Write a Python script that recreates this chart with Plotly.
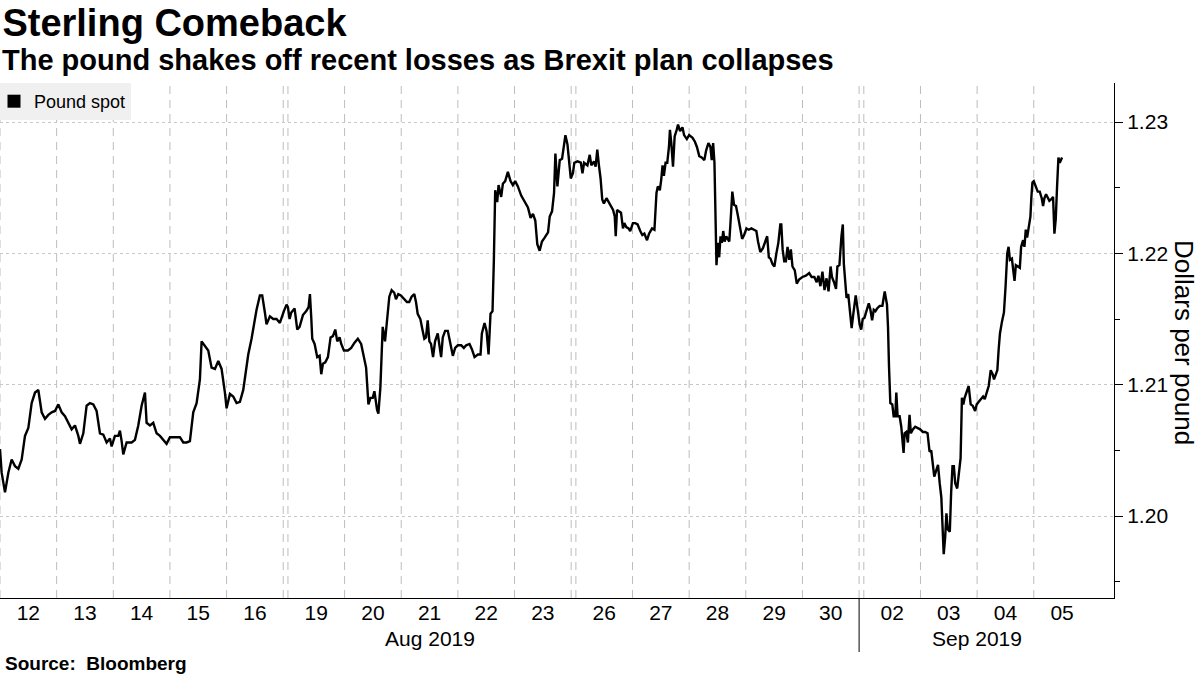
import pandas as pd
import plotly.graph_objects as go

TITLE = "Sterling Comeback"
SUBTITLE = "The pound shakes off recent losses as Brexit plan collapses"
SOURCE = "Source:  Bloomberg"
SERIES_NAME = "Pound spot"
Y_TITLE = "Dollars per pound"
YEAR = 2019
Y_TICKS = [1.20, 1.21, 1.22, 1.23]

# Intraday GBP/USD readings (month-day hour:minute)
TIMES = [
    # Aug 12
    "08-12 00:00", "08-12 00:42", "08-12 02:07", "08-12 03:32", "08-12 04:56", "08-12 06:21",
    "08-12 07:46", "08-12 09:11", "08-12 10:35", "08-12 12:00", "08-12 13:25", "08-12 14:50",
    "08-12 16:14", "08-12 17:39", "08-12 19:04", "08-12 20:29", "08-12 21:53", "08-12 23:18",
    # Aug 13
    "08-13 00:42", "08-13 02:07", "08-13 03:32", "08-13 04:56", "08-13 06:21", "08-13 07:46",
    "08-13 09:11", "08-13 09:53", "08-13 11:18", "08-13 12:42", "08-13 14:07", "08-13 15:32",
    "08-13 16:56", "08-13 18:21", "08-13 19:46", "08-13 21:11", "08-13 22:35", "08-13 23:18",
    # Aug 14
    "08-14 00:42", "08-14 02:07", "08-14 02:49", "08-14 03:32", "08-14 04:14", "08-14 05:39",
    "08-14 07:46", "08-14 09:11", "08-14 10:35", "08-14 12:00", "08-14 13:25", "08-14 14:07",
    "08-14 15:32", "08-14 16:56", "08-14 18:21", "08-14 19:46", "08-14 21:11", "08-14 22:35",
    # Aug 15
    "08-15 00:00", "08-15 01:25", "08-15 04:14", "08-15 05:39", "08-15 07:04", "08-15 08:28",
    "08-15 09:53", "08-15 11:18", "08-15 12:42", "08-15 13:25", "08-15 14:50", "08-15 16:14",
    "08-15 17:39", "08-15 19:04", "08-15 20:29", "08-15 21:53", "08-15 23:18",
    # Aug 16
    "08-16 00:00", "08-16 01:25", "08-16 02:49", "08-16 04:14", "08-16 05:39", "08-16 07:04",
    "08-16 08:28", "08-16 09:11", "08-16 10:35", "08-16 12:00", "08-16 12:42", "08-16 14:07",
    "08-16 15:06", "08-16 16:14", "08-16 16:56", "08-16 18:21", "08-16 19:46", "08-16 21:11",
    "08-16 22:35",
    # Sunday evening
    "08-18 22:17", "08-18 23:25",
    # Aug 19
    "08-19 00:00", "08-19 00:42", "08-19 01:25", "08-19 02:49", "08-19 03:57", "08-19 04:56",
    "08-19 06:21", "08-19 07:46", "08-19 08:45", "08-19 09:19", "08-19 09:53", "08-19 10:18",
    "08-19 11:18", "08-19 12:25", "08-19 13:25", "08-19 14:07", "08-19 14:50", "08-19 15:49",
    "08-19 16:56", "08-19 18:04", "08-19 19:04", "08-19 20:03", "08-19 20:54", "08-19 21:53",
    "08-19 22:35", "08-19 23:43",
    # Aug 20
    "08-20 01:24", "08-20 02:48", "08-20 04:13", "08-20 05:37", "08-20 07:01", "08-20 08:08",
    "08-20 09:07", "08-20 10:06", "08-20 10:57", "08-20 11:56", "08-20 12:38", "08-20 13:45",
    "08-20 14:19", "08-20 15:10", "08-20 16:09", "08-20 17:08", "08-20 17:58", "08-20 18:57",
    "08-20 19:56", "08-20 21:03", "08-20 21:46", "08-20 22:45", "08-20 23:52",
    # Aug 21
    "08-21 01:17", "08-21 02:25", "08-21 03:24", "08-21 04:24", "08-21 05:32", "08-21 06:15",
    "08-21 06:58", "08-21 08:06", "08-21 09:05", "08-21 09:48", "08-21 10:30", "08-21 11:13",
    "08-21 11:56", "08-21 12:38", "08-21 13:29", "08-21 14:20", "08-21 15:28", "08-21 16:11",
    "08-21 16:54", "08-21 17:36", "08-21 18:36", "08-21 19:44", "08-21 20:52", "08-21 21:52",
    "08-21 22:51",
    # Aug 22
    "08-22 00:00", "08-22 01:25", "08-22 02:32", "08-22 03:32", "08-22 04:56", "08-22 05:56",
    "08-22 07:04", "08-22 08:28", "08-22 09:36", "08-22 10:10", "08-22 11:18", "08-22 12:09",
    "08-22 13:00", "08-22 13:50", "08-22 14:41", "08-22 15:15", "08-22 15:49", "08-22 16:40",
    "08-22 17:14", "08-22 18:21", "08-22 19:04", "08-22 20:03", "08-22 21:11", "08-22 22:19",
    "08-22 23:18",
    # Aug 23
    "08-23 00:17", "08-23 01:25", "08-23 02:50", "08-23 04:16", "08-23 05:41", "08-23 06:49",
    "08-23 07:49", "08-23 08:48", "08-23 09:39", "08-23 10:39", "08-23 11:38", "08-23 12:46",
    "08-23 14:12", "08-23 14:55", "08-23 15:54", "08-23 16:45", "08-23 17:19", "08-23 18:10",
    "08-23 19:10", "08-23 20:09", "08-23 21:34", "08-23 22:26", "08-23 23:08", "08-23 23:50",
    # Sunday evening
    "08-25 22:45", "08-25 23:20",
    # Aug 26
    "08-26 00:42", "08-26 02:06", "08-26 02:47", "08-26 03:29", "08-26 04:53", "08-26 05:52",
    "08-26 06:33", "08-26 07:40", "08-26 08:22", "08-26 09:04", "08-26 09:46", "08-26 10:28",
    "08-26 11:10", "08-26 11:52", "08-26 12:58", "08-26 13:57", "08-26 14:55", "08-26 15:46",
    "08-26 16:28", "08-26 16:53", "08-26 17:26", "08-26 18:33", "08-26 19:07", "08-26 19:57",
    "08-26 20:31", "08-26 21:21", "08-26 22:19", "08-26 23:01",
    # Aug 27
    "08-27 00:09", "08-27 01:09", "08-27 02:09", "08-27 03:17", "08-27 04:09", "08-27 05:00",
    "08-27 06:09", "08-27 07:00", "08-27 08:17", "08-27 09:17", "08-27 10:09", "08-27 10:43",
    "08-27 11:34", "08-27 12:09", "08-27 12:43", "08-27 13:17", "08-27 14:00", "08-27 14:43",
    "08-27 15:26", "08-27 15:51", "08-27 16:26", "08-27 17:09", "08-27 17:51", "08-27 18:43",
    "08-27 19:17", "08-27 20:09", "08-27 21:09", "08-27 21:51", "08-27 23:00",
    # Aug 28
    "08-28 00:00", "08-28 01:26", "08-28 02:26", "08-28 03:17", "08-28 04:17", "08-28 05:17",
    "08-28 06:26", "08-28 07:09", "08-28 08:09", "08-28 09:00", "08-28 09:34", "08-28 10:09",
    "08-28 10:43", "08-28 11:09", "08-28 11:34", "08-28 12:09", "08-28 12:43", "08-28 13:17",
    "08-28 13:51", "08-28 14:26", "08-28 15:00", "08-28 15:43", "08-28 16:26", "08-28 17:00",
    "08-28 17:34", "08-28 18:17", "08-28 19:00", "08-28 19:51", "08-28 20:43", "08-28 21:34",
    "08-28 22:26", "08-28 23:17",
    # Aug 29
    "08-29 00:17", "08-29 01:15", "08-29 02:22", "08-29 03:29", "08-29 04:28", "08-29 05:10",
    "08-29 06:08", "08-29 07:15", "08-29 08:13", "08-29 09:03", "08-29 09:45", "08-29 10:27",
    "08-29 11:17", "08-29 12:07", "08-29 12:57", "08-29 13:47", "08-29 14:37", "08-29 15:02",
    "08-29 15:36", "08-29 16:17", "08-29 16:59", "08-29 17:41", "08-29 18:23", "08-29 19:05",
    "08-29 19:46", "08-29 20:45", "08-29 21:35", "08-29 22:33",
    # Aug 30
    "08-30 00:00", "08-30 01:26", "08-30 02:52", "08-30 03:53", "08-30 05:02", "08-30 06:02",
    "08-30 06:45", "08-30 07:37", "08-30 08:28", "08-30 09:20", "08-30 10:12", "08-30 11:03",
    "08-30 11:55", "08-30 12:30", "08-30 13:22", "08-30 14:13", "08-30 14:48", "08-30 15:40",
    "08-30 16:31", "08-30 17:06", "08-30 17:32", "08-30 17:58", "08-30 18:41", "08-30 19:24",
    "08-30 20:16", "08-30 20:50", "08-30 21:33", "08-30 22:34", "08-30 23:25",
    # Sunday evening
    "09-01 22:13", "09-01 22:53", "09-01 23:33",
    # Sep 2
    "09-02 00:17", "09-02 01:07", "09-02 02:06", "09-02 02:48", "09-02 03:31", "09-02 04:13",
    "09-02 04:55", "09-02 05:37", "09-02 06:44", "09-02 07:52", "09-02 08:51", "09-02 09:49",
    "09-02 10:15", "09-02 10:40", "09-02 11:14", "09-02 12:04", "09-02 12:38", "09-02 13:20",
    "09-02 13:46", "09-02 14:19", "09-02 15:10", "09-02 15:52", "09-02 16:17", "09-02 16:51",
    "09-02 17:16", "09-02 17:58", "09-02 18:40", "09-02 19:22", "09-02 19:56", "09-02 20:47",
    "09-02 21:46", "09-02 22:45", "09-02 23:52",
    # Sep 3
    "09-03 01:00", "09-03 02:00", "09-03 03:00", "09-03 03:51", "09-03 04:34", "09-03 05:17",
    "09-03 05:51", "09-03 06:43", "09-03 07:26", "09-03 08:09", "09-03 08:51", "09-03 09:17",
    "09-03 09:51", "09-03 10:26", "09-03 11:00", "09-03 11:34", "09-03 12:26", "09-03 13:00",
    "09-03 13:34", "09-03 14:09", "09-03 14:43", "09-03 15:34", "09-03 16:17", "09-03 17:00",
    "09-03 17:34", "09-03 18:09", "09-03 18:43", "09-03 19:34", "09-03 20:26", "09-03 21:17",
    "09-03 22:09", "09-03 23:09", "09-03 23:50",
    # Sep 4
    "09-04 00:42", "09-04 01:33", "09-04 02:32", "09-04 03:14", "09-04 04:05", "09-04 04:55",
    "09-04 05:46", "09-04 06:36", "09-04 07:10", "09-04 08:00", "09-04 08:34", "09-04 09:08",
    "09-04 09:41", "09-04 10:32", "09-04 11:22", "09-04 12:04", "09-04 12:46", "09-04 13:20",
    "09-04 13:54", "09-04 14:44", "09-04 15:18", "09-04 15:51", "09-04 16:25", "09-04 17:15",
    "09-04 18:06", "09-04 18:39", "09-04 19:30", "09-04 20:03", "09-04 20:37", "09-04 21:11",
    "09-04 21:53", "09-04 22:35", "09-04 23:00", "09-04 23:26",
    # Sep 5
    "09-05 00:00", "09-05 00:51", "09-05 01:41", "09-05 02:32", "09-05 03:23", "09-05 03:57",
    "09-05 04:31", "09-05 05:13", "09-05 05:55", "09-05 06:38", "09-05 07:20", "09-05 08:11",
    "09-05 08:45", "09-05 09:19", "09-05 09:53", "09-05 10:27", "09-05 11:01", "09-05 11:35",
    "09-05 12:00",
]

SPOT = [
    # Aug 12
    1.2051, 1.2033, 1.2018, 1.2033, 1.2043, 1.2038,
    1.2036, 1.2043, 1.2061, 1.2067, 1.2086, 1.2094,
    1.2096, 1.2079, 1.2074, 1.2077, 1.2079, 1.2080,
    # Aug 13
    1.2085, 1.2079, 1.2076, 1.2071, 1.2066, 1.2069,
    1.2061, 1.2055, 1.2063, 1.2084, 1.2086, 1.2085,
    1.2080, 1.2063, 1.2062, 1.2056, 1.2059, 1.2053,
    # Aug 14
    1.2061, 1.2061, 1.2065, 1.2057, 1.2047, 1.2056,
    1.2056, 1.2058, 1.2069, 1.2084, 1.2094, 1.2071,
    1.2069, 1.2071, 1.2063, 1.2061, 1.2058, 1.2055,
    # Aug 15
    1.2060, 1.2060, 1.2060, 1.2056, 1.2056, 1.2057,
    1.2079, 1.2086, 1.2104, 1.2133, 1.2129, 1.2126,
    1.2113, 1.2112, 1.2118, 1.2112, 1.2094,
    # Aug 16
    1.2082, 1.2093, 1.2091, 1.2086, 1.2087, 1.2096,
    1.2112, 1.2123, 1.2135, 1.2152, 1.2157, 1.2168,
    1.2168, 1.2155, 1.2146, 1.2152, 1.2150, 1.2150,
    1.2147,
    # Sunday evening
    1.2156, 1.2161,
    # Aug 19
    1.2159, 1.2150, 1.2155, 1.2158, 1.2142, 1.2144,
    1.2153, 1.2156, 1.2159, 1.2169, 1.2151, 1.2135,
    1.2131, 1.2121, 1.2122, 1.2108, 1.2116, 1.2117,
    1.2121, 1.2136, 1.2137, 1.2142, 1.2133, 1.2136,
    1.2131, 1.2126,
    # Aug 20
    1.2126, 1.2128, 1.2132, 1.2135, 1.2131, 1.2122,
    1.2113, 1.2085, 1.2090, 1.2090, 1.2095, 1.2081,
    1.2078, 1.2098, 1.2144, 1.2133, 1.2151, 1.2167,
    1.2172, 1.2170, 1.2165, 1.2169, 1.2168,
    # Aug 21
    1.2165, 1.2163, 1.2163, 1.2167, 1.2169, 1.2163,
    1.2154, 1.2150, 1.2141, 1.2135, 1.2136, 1.2149,
    1.2133, 1.2131, 1.2121, 1.2133, 1.2139, 1.2131,
    1.2121, 1.2136, 1.2141, 1.2141, 1.2131, 1.2122,
    1.2128,
    # Aug 22
    1.2130, 1.2130, 1.2128, 1.2130, 1.2131, 1.2127,
    1.2121, 1.2123, 1.2123, 1.2139, 1.2147, 1.2141,
    1.2123, 1.2154, 1.2156, 1.2195, 1.2248, 1.2239,
    1.2252, 1.2243, 1.2253, 1.2255, 1.2262, 1.2255,
    1.2252,
    # Aug 23
    1.2255, 1.2251, 1.2244, 1.2239, 1.2235, 1.2227,
    1.2230, 1.2225, 1.2207, 1.2202, 1.2209, 1.2212,
    1.2216, 1.2228, 1.2232, 1.2246, 1.2276, 1.2251,
    1.2271, 1.2272, 1.2290, 1.2283, 1.2271, 1.2257,
    # Sunday evening
    1.2261, 1.2269,
    # Aug 26
    1.2270, 1.2269, 1.2261, 1.2269, 1.2267, 1.2275,
    1.2267, 1.2270, 1.2266, 1.2279, 1.2267, 1.2257,
    1.2241, 1.2238, 1.2242, 1.2239, 1.2236, 1.2233,
    1.2228, 1.2213, 1.2233, 1.2232, 1.2231, 1.2219,
    1.2223, 1.2220, 1.2219, 1.2217,
    # Aug 27
    1.2223, 1.2223, 1.2222, 1.2217, 1.2214, 1.2215,
    1.2210, 1.2215, 1.2219, 1.2218, 1.2246, 1.2251,
    1.2248, 1.2256, 1.2267, 1.2259, 1.2269, 1.2269,
    1.2281, 1.2294, 1.2284, 1.2266, 1.2289, 1.2294,
    1.2298, 1.2293, 1.2296, 1.2290, 1.2287,
    # Aug 28
    1.2290, 1.2288, 1.2285, 1.2281, 1.2274, 1.2273,
    1.2271, 1.2278, 1.2284, 1.2281, 1.2271, 1.2284,
    1.2269, 1.2233, 1.2191, 1.2208, 1.2197, 1.2213,
    1.2208, 1.2217, 1.2209, 1.2213, 1.2211, 1.2209,
    1.2225, 1.2247, 1.2237, 1.2236, 1.2228, 1.2220,
    1.2211, 1.2214,
    # Aug 29
    1.2219, 1.2218, 1.2219, 1.2218, 1.2217, 1.2209,
    1.2201, 1.2204, 1.2209, 1.2213, 1.2197, 1.2196,
    1.2192, 1.2190, 1.2200, 1.2208, 1.2222, 1.2222,
    1.2203, 1.2194, 1.2194, 1.2205, 1.2195, 1.2203,
    1.2190, 1.2187, 1.2177, 1.2180,
    # Aug 30
    1.2182, 1.2183, 1.2185, 1.2182, 1.2182, 1.2178,
    1.2183, 1.2175, 1.2186, 1.2172, 1.2181, 1.2171,
    1.2190, 1.2182, 1.2178, 1.2173, 1.2190, 1.2191,
    1.2213, 1.2222, 1.2192, 1.2183, 1.2166, 1.2169,
    1.2155, 1.2143, 1.2154, 1.2168, 1.2157,
    # Sunday evening
    1.2146, 1.2142, 1.2150,
    # Sep 2
    1.2151, 1.2157, 1.2162, 1.2157, 1.2149, 1.2157,
    1.2156, 1.2158, 1.2160, 1.2160, 1.2171, 1.2161,
    1.2144, 1.2114, 1.2086, 1.2085, 1.2076, 1.2076,
    1.2094, 1.2076, 1.2076, 1.2068, 1.2057, 1.2048,
    1.2063, 1.2064, 1.2056, 1.2077, 1.2063, 1.2066,
    1.2068, 1.2067, 1.2066,
    # Sep 3
    1.2064, 1.2064, 1.2063, 1.2049, 1.2050, 1.2038,
    1.2030, 1.2035, 1.2039, 1.2025, 1.2014, 1.1995,
    1.1971, 1.1983, 1.2002, 1.1990, 1.1988, 1.2018,
    1.2038, 1.2038, 1.2025, 1.2021, 1.2033, 1.2044,
    1.2090, 1.2085, 1.2090, 1.2094, 1.2099, 1.2085,
    1.2084, 1.2080, 1.2085,
    # Sep 4
    1.2087, 1.2089, 1.2091, 1.2089, 1.2094, 1.2099,
    1.2111, 1.2108, 1.2104, 1.2108, 1.2111, 1.2127,
    1.2139, 1.2148, 1.2155, 1.2175, 1.2200, 1.2205,
    1.2195, 1.2196, 1.2185, 1.2179, 1.2191, 1.2190,
    1.2189, 1.2205, 1.2210, 1.2205, 1.2218, 1.2212,
    1.2219, 1.2228, 1.2243, 1.2254,
    # Sep 5
    1.2255, 1.2251, 1.2247, 1.2247, 1.2242, 1.2236,
    1.2242, 1.2245, 1.2243, 1.2240, 1.2241, 1.2243,
    1.2215, 1.2226, 1.2251, 1.2273, 1.2269, 1.2271,
    1.2273,
]

# ---------------------------------------------------------------------------
ts = pd.to_datetime([f"{YEAR}-{t}" for t in TIMES])
DAY = pd.Timedelta(days=1)
WEEKEND_GAP = pd.Timedelta(hours=46)  # Saturday 00:00 -> Sunday 22:00 hidden

days = sorted({d for d in ts.normalize() if d.weekday() < 5})
fridays = [d for d in days if d.weekday() == 4]
break_starts = [d + DAY for d in fridays]

# day separators: start of every trading day + end of every Friday session
sep_x = list(days) + [b + WEEKEND_GAP for b in break_starts]

# month separator and month label positions
month_sep = []
month_centers = []
for i in range(1, len(days)):
    if days[i].month != days[i - 1].month:
        end = days[i - 1] + DAY
        if end.weekday() == 5:
            end = end + WEEKEND_GAP
        month_sep.append(end)
months = sorted({(d.year, d.month) for d in days})
for (yy, mm) in months:
    md = [d for d in days if d.year == yy and d.month == mm]
    first, last = md[0], md[-1] + DAY
    month_centers.append((first + (last - first) / 2, md[0].strftime("%b %Y")))

AX_FONT = "Liberation Sans, Arial, sans-serif"
BLACK = "#000000"

PLOT_TOP, PLOT_BOTTOM, PLOT_RIGHT = 83, 598, 1114
PLOT_H = PLOT_BOTTOM - PLOT_TOP


def py(px):
    """paper y for a pixel row measured from the top of the figure"""
    return (PLOT_BOTTOM - px) / PLOT_H


fig = go.Figure()
fig.add_trace(go.Scatter(
    x=ts, y=SPOT, mode="lines", name=SERIES_NAME, showlegend=False,
    line=dict(color=BLACK, width=2.4),
))
fig.add_trace(go.Scatter(
    x=[None], y=[None], mode="markers", name=SERIES_NAME,
    marker=dict(symbol="square", size=13, color=BLACK),
))

shapes = []
for x in sep_x:
    shapes.append(dict(type="line", xref="x", yref="paper", x0=x, x1=x, y0=0, y1=1,
                       line=dict(color="#bdbdbd", width=1, dash="8px,6px"), layer="below"))
for x in month_sep:
    shapes.append(dict(type="line", xref="x", yref="paper", x0=x, x1=x, y0=0, y1=py(652),
                       line=dict(color=BLACK, width=1)))

annotations = [
    dict(text=f"<b>{SUBTITLE}</b>", xref="paper", yref="paper", x=0.0, y=py(60),
         xanchor="left", yanchor="middle", showarrow=False,
         font=dict(family=AX_FONT, size=29, color=BLACK)),
    dict(text=f"<b>{SOURCE}</b>", xref="paper", yref="paper", x=0.003, y=py(663),
         xanchor="left", yanchor="middle", showarrow=False,
         font=dict(family=AX_FONT, size=19, color=BLACK)),
    dict(text=Y_TITLE, xref="paper", yref="paper", x=1 + (1184 - PLOT_RIGHT) / PLOT_RIGHT, y=py(342),
         xanchor="center", yanchor="middle", showarrow=False, textangle=90,
         font=dict(family=AX_FONT, size=26, color=BLACK)),
]
for cx, label in month_centers:
    annotations.append(dict(text=label, xref="x", yref="paper", x=cx, y=py(638),
                            xanchor="center", yanchor="middle", showarrow=False,
                            font=dict(family=AX_FONT, size=21, color=BLACK)))

fig.update_layout(
    width=1200, height=675,
    margin=dict(l=0, r=1200 - PLOT_RIGHT, t=PLOT_TOP, b=675 - PLOT_BOTTOM, autoexpand=False),
    paper_bgcolor="white", plot_bgcolor="white",
    title=dict(text=f"<b>{TITLE}</b>", x=0.002, xanchor="left", xref="container",
               y=1 - 23 / 675, yanchor="middle", yref="container",
               font=dict(family=AX_FONT, size=38, color=BLACK)),
    font=dict(family=AX_FONT, color=BLACK),
    showlegend=True,
    legend=dict(x=-6 / PLOT_RIGHT, y=1.0, xanchor="left", yanchor="top", bgcolor="#f0f0f0",
                font=dict(family=AX_FONT, size=18, color=BLACK), itemwidth=30,
                borderwidth=0),
    xaxis=dict(
        type="date",
        range=[days[0], days[-1] + DAY + pd.Timedelta(hours=10)],
        rangebreaks=[dict(values=[b.strftime("%Y-%m-%d") for b in break_starts],
                          dvalue=WEEKEND_GAP.total_seconds() * 1000)],
        tickvals=[d + pd.Timedelta(hours=12) for d in days],
        tickformat="%d", ticks="", showgrid=False, zeroline=False,
        showline=True, linecolor=BLACK, linewidth=1, mirror=False,
        tickfont=dict(family=AX_FONT, size=21, color=BLACK),
        ticklabelstandoff=-4,
        fixedrange=True,
    ),
    yaxis=dict(
        side="right", range=[1.19376, 1.23297],
        tickvals=Y_TICKS, tickformat=".2f",
        ticks="outside", ticklen=8, tickwidth=1, tickcolor=BLACK,
        minor=dict(dtick=0.005, ticks="outside", ticklen=5, tickcolor=BLACK, showgrid=False),
        showgrid=True, gridcolor="#c8c8c8", griddash="dot", gridwidth=1,
        showline=True, linecolor=BLACK, linewidth=1, zeroline=False,
        tickfont=dict(family=AX_FONT, size=21, color=BLACK),
        fixedrange=True,
    ),
    shapes=shapes,
    annotations=annotations,
)

fig.write_html("out.html", config={"displayModeBar": False},
               post_script="document.body.style.margin='0px';")
